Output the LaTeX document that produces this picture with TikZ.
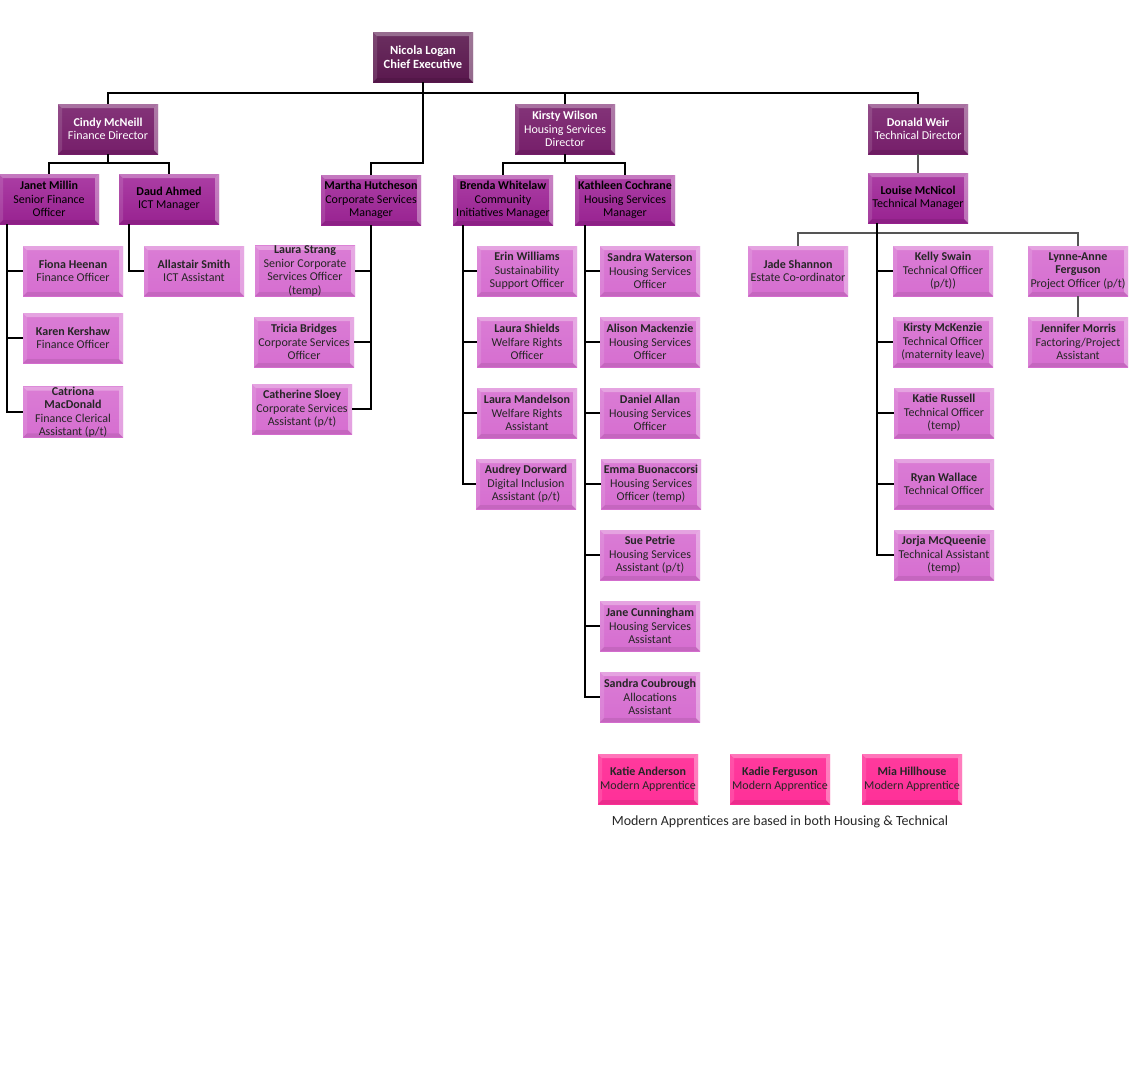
\documentclass[tikz,border=0pt]{standalone}
\usepackage{fontspec}
\setmainfont{Carlito}
\usepackage{tikz}
\usetikzlibrary{positioning}
\definecolor{execcol}{RGB}{90,24,78}
\definecolor{dircol}{RGB}{118,30,106}
\definecolor{mgrcol}{RGB}{160,36,152}
\definecolor{staffcol}{RGB}{214,110,208}
\definecolor{appcol}{RGB}{255,48,152}
\definecolor{linkgrey}{RGB}{85,85,85}

\begin{document}
\begin{tikzpicture}[x=1pt, y=-1pt,
  bevelled/.style={path picture={
    \fill[white, opacity=.3] (path picture bounding box.north west) -- (path picture bounding box.north east)
      -- ([shift={(-4,4)}]path picture bounding box.north east) -- ([shift={(4,4)}]path picture bounding box.north west) -- cycle;
    \fill[white, opacity=.12] (path picture bounding box.north west) -- ([shift={(4,4)}]path picture bounding box.north west)
      -- ([shift={(4,-4)}]path picture bounding box.south west) -- (path picture bounding box.south west) -- cycle;
    \fill[white, opacity=.35] (path picture bounding box.north east) -- ([shift={(-4,4)}]path picture bounding box.north east)
      -- ([shift={(-4,-4)}]path picture bounding box.south east) -- (path picture bounding box.south east) -- cycle;
    \fill[black, opacity=.08] (path picture bounding box.south west) -- ([shift={(4,-4)}]path picture bounding box.south west)
      -- ([shift={(-4,-4)}]path picture bounding box.south east) -- (path picture bounding box.south east) -- cycle;
  }},
  box/.style={bevelled, minimum width=100pt, minimum height=50pt, inner xsep=1pt, inner ysep=0pt,
    align=center, font=\fontsize{12}{13.5}\selectfont},
  exec/.style={box, top color=execcol!90!white, bottom color=execcol, text=white, font=\fontsize{12.5}{14}\selectfont\bfseries},
  director/.style={box, top color=dircol!90!white, bottom color=dircol, text=white},
  manager/.style={box, top color=mgrcol!88!white, bottom color=mgrcol!95!black, text=black},
  staff/.style={box, top color=staffcol!90!white, bottom color=staffcol, text=black!85},
  apprentice/.style={box, top color=appcol!95!white, bottom color=appcol, text=black!85},
  conn/.style={draw=black, line width=1.6pt},
  softconn/.style={draw=linkgrey, line width=1.4pt}]
\useasboundingbox (0,0) rectangle (1138,1072);

% top of the tree
\node[exec] (nicola) at (423,57) {Nicola Logan\\Chief Executive};
\node[director] (cindy) at (108,129) {\textbf{Cindy McNeill}\\Finance Director};
\node[director] (kirsty) at (565,129) {\textbf{Kirsty Wilson}\\Housing Services\\Director};
\node[director] (donald) at (918,129) {\textbf{Donald Weir}\\Technical Director};

% managers
\node[manager] (janet) at (49,199) {\textbf{Janet Millin}\\Senior Finance\\Officer};
\node[manager] (daud) at (169,199) {\textbf{Daud Ahmed}\\ICT Manager};
\node[manager] (martha) at (371,200) {\textbf{Martha Hutcheson}\\Corporate Services\\Manager};
\node[manager] (brenda) at (503,200) {\textbf{Brenda Whitelaw}\\Community\\Initiatives Manager};
\node[manager] (kathleen) at (625,200) {\textbf{Kathleen Cochrane}\\Housing Services\\Manager};
\node[manager] (louise) at (918,198) {\textbf{Louise McNicol}\\Technical Manager};

% finance and ICT
\node[staff] (fiona) at (73,271) {\textbf{Fiona Heenan}\\Finance Officer};
\node[staff] (karen) at (73,338) {\textbf{Karen Kershaw}\\Finance Officer};
\node[staff] (catriona) at (73,412) {\textbf{Catriona}\\\textbf{MacDonald}\\Finance Clerical\\Assistant (p/t)};
\node[staff] (allastair) at (194,271) {\textbf{Allastair Smith}\\ICT Assistant};

% corporate services
\node[staff] (strang) at (305,271) {\textbf{Laura Strang}\\Senior Corporate\\Services Officer\\(temp)};
\node[staff] (tricia) at (304,342) {\textbf{Tricia Bridges}\\Corporate Services\\Officer};
\node[staff] (catherine) at (302,409) {\textbf{Catherine Sloey}\\Corporate Services\\Assistant (p/t)};

% community initiatives
\node[staff] (erin) at (527,271) {\textbf{Erin Williams}\\Sustainability\\Support Officer};
\node[staff] (shields) at (527,342) {\textbf{Laura Shields}\\Welfare Rights\\Officer};
\node[staff] (mandelson) at (527,413) {\textbf{Laura Mandelson}\\Welfare Rights\\Assistant};
\node[staff] (audrey) at (526,484) {\textbf{Audrey Dorward}\\Digital Inclusion\\Assistant (p/t)};

% housing services
\node[staff] (waterson) at (650,271) {\textbf{Sandra Waterson}\\Housing Services\\Officer};
\node[staff] (alison) at (650,342) {\textbf{Alison Mackenzie}\\Housing Services\\Officer};
\node[staff] (daniel) at (650,413) {\textbf{Daniel Allan}\\Housing Services\\Officer};
\node[staff] (emma) at (651,484) {\textbf{Emma Buonaccorsi}\\Housing Services\\Officer (temp)};
\node[staff] (sue) at (650,555) {\textbf{Sue Petrie}\\Housing Services\\Assistant (p/t)};
\node[staff] (jane) at (650,626) {\textbf{Jane Cunningham}\\Housing Services\\Assistant};
\node[staff] (coubrough) at (650,697) {\textbf{Sandra Coubrough}\\Allocations\\Assistant};

% technical
\node[staff] (jade) at (798,271) {\textbf{Jade Shannon}\\Estate Co-ordinator};
\node[staff] (kelly) at (943,271) {\textbf{Kelly Swain}\\Technical Officer\\(p/t))};
\node[staff] (lynne) at (1078,271) {\textbf{Lynne-Anne}\\\textbf{Ferguson}\\Project Officer (p/t)};
\node[staff] (mckenzie) at (943,342) {\textbf{Kirsty McKenzie}\\Technical Officer\\(maternity leave)};
\node[staff] (jennifer) at (1078,342) {\textbf{Jennifer Morris}\\Factoring/Project\\Assistant};
\node[staff] (russell) at (944,413) {\textbf{Katie Russell}\\Technical Officer\\(temp)};
\node[staff] (ryan) at (944,484) {\textbf{Ryan Wallace}\\Technical Officer};
\node[staff] (jorja) at (944,555) {\textbf{Jorja McQueenie}\\Technical Assistant\\(temp)};

% apprentices
\node[apprentice] (katie) at (648,779) {\textbf{Katie Anderson}\\Modern Apprentice};
\node[apprentice] (kadie) at (780,779) {\textbf{Kadie Ferguson}\\Modern Apprentice};
\node[apprentice] (mia) at (912,779) {\textbf{Mia Hillhouse}\\Modern Apprentice};
\node[font=\fontsize{14}{16}\selectfont, text=black!85] (note) at (780,822) {Modern Apprentices are based in both Housing \& Technical};

% connectors
\coordinate (topbus) at (423,93);
\coordinate (mbend) at (423,163);
\coordinate (techbus) at (877,233);
\draw[conn] (cindy.north) |- (topbus) -| (donald.north);
\draw[conn] (kirsty.north) |- (topbus);
\draw[conn] (nicola.south) -- (mbend) -| (martha.north);
\draw[conn] (cindy.south) -- ++(0,9) -| (janet.north);
\draw[conn] (cindy.south) -- ++(0,9) -| (daud.north);
\draw[conn] (kirsty.south) -- ++(0,9) -| (brenda.north);
\draw[conn] (kirsty.south) -- ++(0,9) -| (kathleen.north);
\draw[softconn] (donald.south) -- (louise.north);

\draw[conn] ([xshift=8pt]janet.south west) |- (fiona.west);
\draw[conn] ([xshift=8pt]janet.south west) |- (karen.west);
\draw[conn] ([xshift=8pt]janet.south west) |- (catriona.west);
\draw[conn] ([xshift=10pt]daud.south west) |- (allastair.west);

\draw[conn] (martha.south) |- (strang.east);
\draw[conn] (martha.south) |- (tricia.east);
\draw[conn] (martha.south) |- (catherine.east);

\draw[conn] ([xshift=10pt]brenda.south west) |- (erin.west);
\draw[conn] ([xshift=10pt]brenda.south west) |- (shields.west);
\draw[conn] ([xshift=10pt]brenda.south west) |- (mandelson.west);
\draw[conn] ([xshift=10pt]brenda.south west) |- (audrey.west);

\foreach \who in {waterson,alison,daniel,emma,sue,jane,coubrough}
  \draw[conn] ([xshift=10pt]kathleen.south west) |- (\who.west);

\draw[softconn] (jade.north) |- (techbus) -| (lynne.north);
\draw[softconn] (lynne.south) -- (jennifer.north);
\foreach \who in {kelly,mckenzie,russell,ryan,jorja}
  \draw[conn] ([xshift=9pt]louise.south west) |- (\who.west);
\end{tikzpicture}
\end{document}
